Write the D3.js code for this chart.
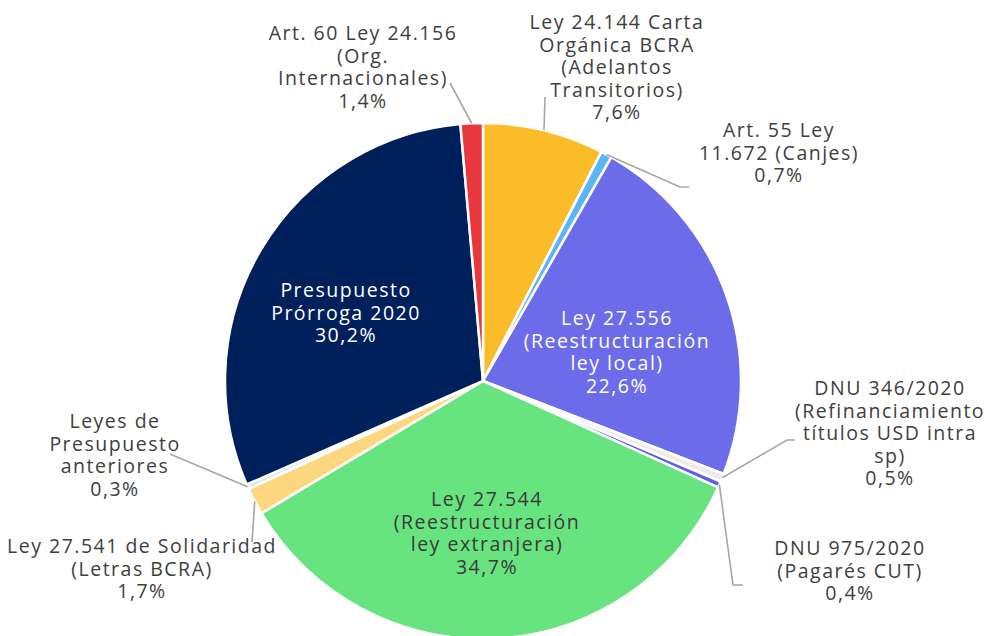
<!DOCTYPE html>
<html>
<head>
<meta charset="utf-8">
<script src="https://cdn.jsdelivr.net/npm/d3@7"></script>
<style>
  body { margin: 0; background: #fff; }
  text { font-family: "Open Sans", Lato, sans-serif; }
</style>
</head>
<body>
<script>
// slices clockwise from 12 o'clock
var categories = [
  "Ley 24.144 Carta Orgánica BCRA (Adelantos Transitorios)",
  "Art. 55 Ley 11.672 (Canjes)",
  "Ley 27.556 (Reestructuración ley local)",
  "DNU 346/2020 (Refinanciamiento títulos USD intra sp)",
  "DNU 975/2020 (Pagarés CUT)",
  "Ley 27.544 (Reestructuración ley extranjera)",
  "Ley 27.541 de Solidaridad (Letras BCRA)",
  "Leyes de Presupuesto anteriores",
  "Presupuesto Prórroga 2020",
  "Art. 60 Ley 24.156 (Org. Internacionales)"
];
var shares = [7.6, 0.7, 22.6, 0.5, 0.4, 34.7, 1.7, 0.3, 30.2, 1.4];
var labelLines = [
  ["Ley 24.144 Carta", "Orgánica BCRA", "(Adelantos", "Transitorios)"],
  ["Art. 55 Ley", "11.672 (Canjes)"],
  ["Ley 27.556", "(Reestructuración", "ley local)"],
  ["DNU 346/2020", "(Refinanciamiento", "títulos USD intra", "sp)"],
  ["DNU 975/2020", "(Pagarés CUT)"],
  ["Ley 27.544", "(Reestructuración", "ley extranjera)"],
  ["Ley 27.541 de Solidaridad", "(Letras BCRA)"],
  ["Leyes de", "Presupuesto", "anteriores"],
  ["Presupuesto", "Prórroga 2020"],
  ["Art. 60 Ley 24.156", "(Org.", "Internacionales)"]
];
var colors = ["#fbbc29", "#5ab4f5", "#6c6cea", "#ebebeb", "#5e5ee6",
              "#67e37f", "#fdd77f", "#dce6f2", "#00205c", "#e8383d"];

// label placement: x, first baseline, text colour, leader end points
var layout = [
  {x: 617, y: 29, fill: "#404040", lead: [[545, 97]]},
  {x: 779, y: 137, fill: "#404040", lead: [[680, 187], [689, 187]]},
  {x: 617, y: 325, fill: "#fff"},
  {x: 890, y: 395, fill: "#404040", lead: [[787, 440], [795, 440]]},
  {x: 850, y: 555, fill: "#404040", lead: [[733, 585], [743, 585]]},
  {x: 487, y: 506, fill: "#3a3a3a"},
  {x: 142, y: 553, fill: "#404040", lead: [[252, 542]]},
  {x: 115, y: 428, fill: "#404040", lead: [[170, 454]]},
  {x: 346, y: 297, fill: "#fff"},
  {x: 363, y: 40, fill: "#404040", lead: [[450, 83]]}
];

var width = 990, height = 636;
var cx = 483, cy = 381, radius = 258;
var lineH = 22.6;

var fmt = function(v) { return d3.format(".1f")(v).replace(".", ",") + "%"; };

var svg = d3.select("body").append("svg")
    .attr("width", width)
    .attr("height", height);

var pie = d3.pie().sort(null).value(function(d) { return d; });
var arcs = pie(shares);

var arc = d3.arc().innerRadius(0).outerRadius(radius);
var edge = d3.arc().innerRadius(radius).outerRadius(radius);

var g = svg.append("g").attr("transform", "translate(" + cx + "," + cy + ")");

g.selectAll("path.slice")
  .data(arcs)
  .enter().append("path")
  .attr("class", "slice")
  .attr("d", arc)
  .attr("fill", function(d, i) { return colors[i]; })
  .attr("stroke", "#fff")
  .attr("stroke-width", 2.5);

// leader lines
var line = d3.line();
arcs.forEach(function(d, i) {
  var L = layout[i];
  if (!L.lead) return;
  var p = edge.centroid(d);
  var pts = [[p[0] + cx, p[1] + cy]].concat(L.lead);
  svg.append("path")
    .attr("d", line(pts))
    .attr("fill", "none")
    .attr("stroke", "#a6a6a6")
    .attr("stroke-width", 1.6);
});

// labels
arcs.forEach(function(d, i) {
  var L = layout[i];
  var lines = labelLines[i].concat([fmt(shares[i])]);
  var t = svg.append("text")
    .attr("x", L.x)
    .attr("y", L.y)
    .attr("text-anchor", "middle")
    .attr("fill", L.fill)
    .style("font-size", "19.5px")
    .style("letter-spacing", "1.5px");
  lines.forEach(function(s, k) {
    t.append("tspan")
      .attr("x", L.x)
      .attr("y", L.y + k * lineH)
      .text(s);
  });
});
</script>
</body>
</html>
